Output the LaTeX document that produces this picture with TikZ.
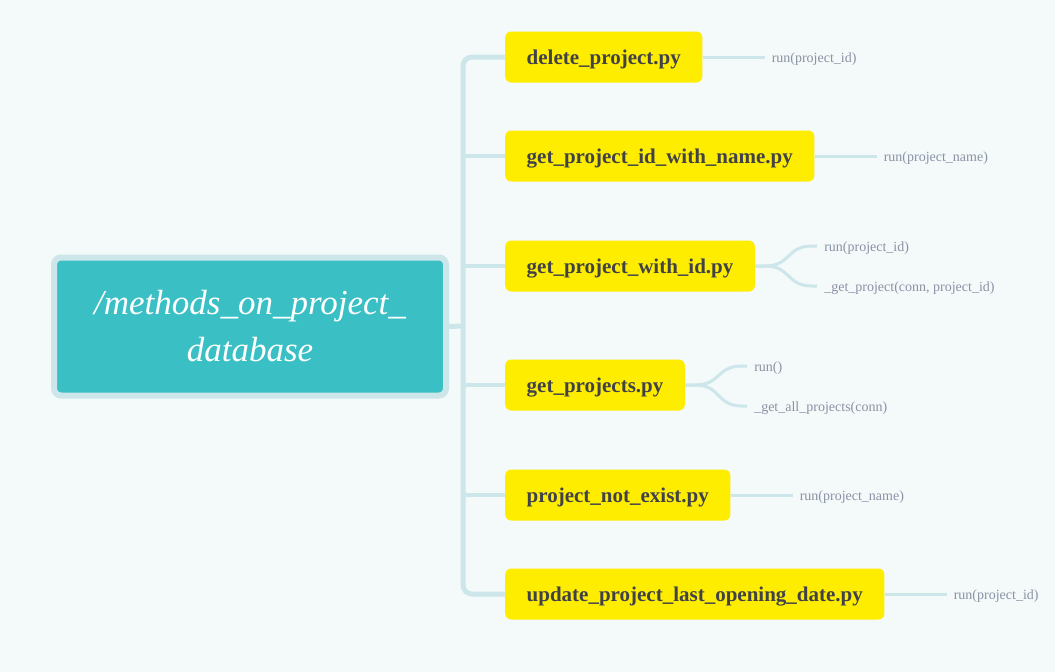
\documentclass[tikz,border=0pt]{standalone}
\usepackage{fontspec}
\setmainfont{Liberation Serif}
\usetikzlibrary{positioning}
\definecolor{bgcol}{RGB}{244,249,249}
\definecolor{tealcol}{RGB}{58,191,196}
\definecolor{rimcol}{RGB}{205,230,234}
\definecolor{linecol}{RGB}{205,230,234}
\definecolor{filecol}{RGB}{255,237,0}
\definecolor{filetext}{RGB}{64,66,72}
\definecolor{leaftext}{RGB}{138,146,166}
\begin{document}
\begin{tikzpicture}[x=1pt,y=-1pt,
  root/.style={rectangle, fill=tealcol, draw=rimcol, line width=6pt, rounded corners=7pt,
    minimum width=392pt, minimum height=138pt, text=white, align=center,
    font=\itshape\fontsize{35}{47}\selectfont},
  file/.style={rectangle, fill=filecol, rounded corners=6pt, anchor=west, inner xsep=21.5pt,
    minimum height=51pt, text height=16pt, text depth=2pt, text=filetext,
    font=\bfseries\fontsize{21}{24}\selectfont},
  leaf/.style={inner xsep=7pt, inner ysep=2pt, text height=11pt, text depth=1pt,
    text=leaftext, font=\fontsize{14}{16}\selectfont},
  branch/.style={draw=linecol, line width=3.5pt},
  trunk/.style={draw=linecol, line width=5pt}]
\fill[bgcol] (0,0) rectangle (1055,672);
\useasboundingbox (0,0) rectangle (1055,672);

\node[root] (db) at (250,326.5) {/methods\_on\_project\_\\database};

\node[file] (del) at (505,57) {delete\_project.py};
\node[file] (gin) at (505,156) {get\_project\_id\_with\_name.py};
\node[file] (gwi) at (505,266) {get\_project\_with\_id.py};
\node[file] (gps) at (505,385) {get\_projects.py};
\node[file] (pne) at (505,495) {project\_not\_exist.py};
\node[file] (upd) at (505,594) {update\_project\_last\_opening\_date.py};

\coordinate (hub) at (463,326);
%\coordinate (hub) at (463,320);
\draw[trunk] (db.east) -- (hub);
\draw[trunk, rounded corners=9pt] (del.west) -| (hub) |- (upd.west);
\draw[branch] (gin.west) -- (gin.west -| hub);
\draw[branch] (gwi.west) -- (gwi.west -| hub);
\draw[branch] (gps.west) -- (gps.west -| hub);
\draw[branch] (pne.west) -- (pne.west -| hub);

\node[leaf, right=62pt of del] (l1) {run(project\_id)};
\node[leaf, right=62pt of gin] (l2) {run(project\_name)};
\node[leaf, anchor=west] (l3a) at ([xshift=62pt,yshift=20pt]gwi.east) {run(project\_id)};
\node[leaf, anchor=west] (l3b) at ([xshift=62pt,yshift=-20pt]gwi.east) {\_get\_project(conn, project\_id)};
\node[leaf, anchor=west] (l4a) at ([xshift=62pt,yshift=19pt]gps.east) {run()};
\node[leaf, anchor=west] (l4b) at ([xshift=62pt,yshift=-21pt]gps.east) {\_get\_all\_projects(conn)};
\node[leaf, right=62pt of pne] (l5) {run(project\_name)};
\node[leaf, right=62pt of upd] (l6) {run(project\_id)};

\draw[branch, line width=3pt] (del) -- (l1);
\draw[branch, line width=3pt] (gin) -- (l2);
\draw[branch, line width=3pt] (pne) -- (l5);
\draw[branch, line width=3pt] (upd) -- (l6);
\draw[branch, line width=3pt] (gwi.east) -- ++(10,0) .. controls +(26,0) and +(-26,0) .. ([xshift=-5pt]l3a.west) -- (l3a.west);
\draw[branch, line width=3pt] (gwi.east) -- ++(10,0) .. controls +(26,0) and +(-26,0) .. ([xshift=-5pt]l3b.west) -- (l3b.west);
\draw[branch, line width=3pt] (gps.east) -- ++(10,0) .. controls +(26,0) and +(-26,0) .. ([xshift=-5pt]l4a.west) -- (l4a.west);
\draw[branch, line width=3pt] (gps.east) -- ++(10,0) .. controls +(26,0) and +(-26,0) .. ([xshift=-5pt]l4b.west) -- (l4b.west);
\end{tikzpicture}
\end{document}
